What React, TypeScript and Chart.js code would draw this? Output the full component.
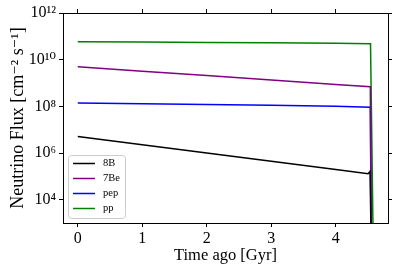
import React, { useEffect, useRef } from 'react';
import { Chart, registerables } from 'chart.js';

Chart.register(...registerables);

// Data (age in Gyr, flux in cm^-2 s^-1)
const ages8B = [0, 1, 2, 3, 4, 4.5, 4.53, 4.55];
const flux8B = [5.1e6, 2.27e6, 1.0e6, 4.4e5, 1.95e5, 1.29e5, 1.62e5, 1e2];
const ages7Be = [0, 1, 2, 3, 4, 4.535, 4.55];
const flux7Be = [5.0e9, 3.2e9, 2.1e9, 1.35e9, 8.7e8, 6.9e8, 1e2];
const agesPep = [0, 1, 2, 3, 4, 4.535, 4.55];
const fluxPep = [1.4e8, 1.3e8, 1.2e8, 1.1e8, 1.0e8, 9.2e7, 1e2];
const agesPp = [0, 1, 2, 3, 4, 4.538, 4.58];
const fluxPp = [5.9e10, 5.7e10, 5.5e10, 5.25e10, 5.05e10, 4.85e10, 1e2];

const seriesLabels = ['8B', '7Be', 'pep', 'pp'];
const seriesColors = ['#000000', '#800080', '#0000ff', '#008000'];

const xTicks = [0, 1, 2, 3, 4];
const yTicks = [1e4, 1e6, 1e8, 1e10, 1e12];

const FONT = "'Liberation Serif', 'DejaVu Serif', serif";

const SUP: Record<string, string> = {
  '0': '⁰', '1': '¹', '2': '²', '3': '³', '4': '⁴', '5': '⁵', '6': '⁶', '7': '⁷', '8': '⁸', '9': '⁹', '-': '⁻',
};
const powLabel = (v: number) => {
  const e = Math.round(Math.log10(v));
  return '10' + String(e).split('').map((c) => SUP[c] ?? c).join('');
};

const toPoints = (xs: number[], ys: number[]) => xs.map((x, i) => ({ x, y: ys[i] }));

const legendPlugin = {
  id: 'innerLegend',
  afterDraw(chart: any) {
    const { ctx, chartArea } = chart;
    const x0 = chartArea.left + 5;
    const h = 63;
    const w = 57;
    const y0 = chartArea.bottom - 5 - h;
    ctx.save();
    ctx.beginPath();
    (ctx as any).roundRect(x0 + 0.5, y0 + 0.5, w, h, 3);
    ctx.fillStyle = 'rgba(255,255,255,0.8)';
    ctx.fill();
    ctx.strokeStyle = '#cccccc';
    ctx.lineWidth = 1;
    ctx.stroke();
    ctx.font = `10.5px ${FONT}`;
    ctx.textBaseline = 'middle';
    ctx.textAlign = 'left';
    seriesLabels.forEach((lab, i) => {
      const yy = y0 + 8.5 + i * 15;
      ctx.beginPath();
      ctx.strokeStyle = seriesColors[i];
      ctx.lineWidth = 1.5;
      ctx.moveTo(x0 + 5, yy);
      ctx.lineTo(x0 + 27, yy);
      ctx.stroke();
      ctx.fillStyle = '#000';
      ctx.fillText(lab, x0 + 35, yy);
    });
    ctx.restore();
  },
};

export default function App() {
  const ref = useRef<HTMLCanvasElement>(null);
  useEffect(() => {
    const series = [
      toPoints(ages8B, flux8B),
      toPoints(ages7Be, flux7Be),
      toPoints(agesPep, fluxPep),
      toPoints(agesPp, fluxPp),
    ];
    const xMin = -0.229;
    const xMax = 4.809;
    const tickGrid = { drawOnChartArea: false, tickLength: 4, tickColor: '#000', tickWidth: 1 };
    const border = { color: '#000', width: 1 };
    const chart = new Chart(ref.current!, {
      type: 'line',
      data: {
        datasets: series.map((d, i) => ({
          label: seriesLabels[i],
          data: d,
          borderColor: seriesColors[i],
          backgroundColor: seriesColors[i],
          borderWidth: 1.5,
          pointRadius: 0,
          tension: 0,
          fill: false,
        })),
      },
      options: {
        responsive: false,
        animation: false,
        layout: { padding: 0 },
        plugins: { legend: { display: false }, tooltip: { enabled: false } },
        scales: {
          x: {
            type: 'linear',
            position: 'bottom',
            min: xMin,
            max: xMax,
            afterBuildTicks: (s: any) => { s.ticks = xTicks.map((v) => ({ value: v })); },
            afterFit: (s: any) => { s.height = 49; },
            ticks: { color: '#000', font: { family: FONT, size: 16 }, padding: 2, maxRotation: 0 },
            grid: tickGrid,
            border,
            title: {
              display: true,
              text: 'Time ago [Gyr]',
              color: '#000',
              font: { family: FONT, size: 16.5 },
              padding: { top: 0, bottom: 6 },
            },
          },
          x2: {
            type: 'linear',
            position: 'top',
            min: xMin,
            max: xMax,
            afterBuildTicks: (s: any) => { s.ticks = xTicks.map((v) => ({ value: v })); },
            afterFit: (s: any) => { s.height = 13; },
            ticks: { display: false },
            grid: tickGrid,
            border,
          },
          y: {
            type: 'logarithmic',
            position: 'left',
            min: 1e3,
            max: 1e12,
            afterBuildTicks: (s: any) => { s.ticks = yTicks.map((v) => ({ value: v })); },
            afterFit: (s: any) => { s.width = 63; },
            ticks: {
              color: '#000',
              font: { family: FONT, size: 16 },
              padding: 3,
              callback: (v: any) => powLabel(Number(v)),
            },
            grid: tickGrid,
            border,
            title: {
              display: true,
              text: 'Neutrino Flux [cm⁻² s⁻¹]',
              color: '#000',
              font: { family: FONT, size: 18 },
              padding: { top: 7, bottom: 0 },
            },
          },
          y2: {
            type: 'logarithmic',
            position: 'right',
            min: 1e3,
            max: 1e12,
            afterBuildTicks: (s: any) => { s.ticks = yTicks.map((v) => ({ value: v })); },
            afterFit: (s: any) => { s.width = 10; },
            ticks: { display: false },
            grid: tickGrid,
            border,
          },
        },
      },
      plugins: [legendPlugin],
    } as any);
    return () => chart.destroy();
  }, []);
  return (
    <div style={{ position: 'fixed', left: 0, top: 0, width: 398, height: 272, background: '#fff' }}>
      <canvas ref={ref} width={398} height={272} />
    </div>
  );
}
